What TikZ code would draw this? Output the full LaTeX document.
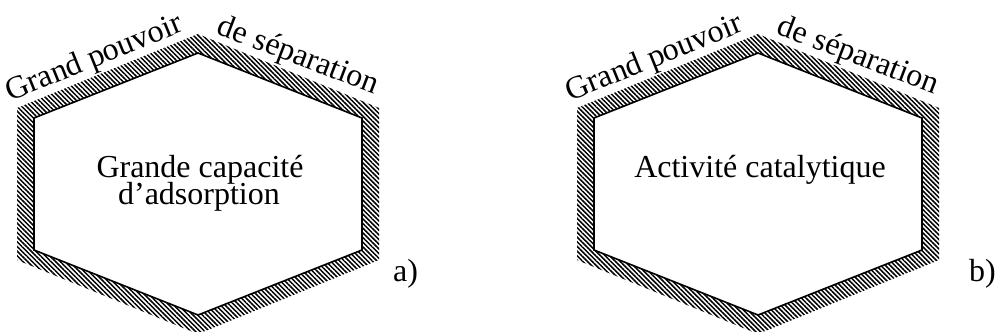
\documentclass[tikz,border=0pt]{standalone}
\usepackage{fontspec}
\setmainfont{Liberation Serif}
\usetikzlibrary{patterns.meta}
\tikzset{
  band/.style={pattern={Lines[angle=-45,distance=3.3pt,line width=1.5pt]}, even odd rule},
  innerline/.style={line width=1.6pt, line join=miter},
  lbl/.style={font=\fontsize{32}{32}\selectfont, inner sep=0pt, anchor=base},
}
\begin{document}
\begin{tikzpicture}[x=1pt,y=-1pt]
\useasboundingbox (0,0) rectangle (996,332);
% ---- hexagon a
\fill[band] (17,108) -- (198,34) -- (379,108) -- (379,260) -- (198,334) -- (17,260) -- cycle
            (34,118) -- (198,53) -- (362,118) -- (362,250) -- (198,315) -- (34,250) -- cycle;
\draw[innerline] (34,118) -- (198,53) -- (362,118) -- (362,250) -- (198,315) -- (34,250) -- cycle;
\node[lbl, rotate=22] (gpa) at (97.5,66) {Grand pouvoir};
\node[lbl, rotate=-21] (dsa) at (295,64) {de séparation};
\node[lbl] (ca1) at (200,177) {Grande capacité};
\node[lbl] (ca2) at (199,204) {d’adsorption};
\node[lbl, anchor=base west] (la) at (393,281) {a)};
% ---- hexagon b
\begin{scope}[xshift=560pt]
\fill[band] (17,108) -- (198,34) -- (379,108) -- (379,260) -- (198,334) -- (17,260) -- cycle
            (34,118) -- (198,53) -- (362,118) -- (362,250) -- (198,315) -- (34,250) -- cycle;
\draw[innerline] (34,118) -- (198,53) -- (362,118) -- (362,250) -- (198,315) -- (34,250) -- cycle;
\node[lbl, rotate=22] (gpb) at (97.5,66) {Grand pouvoir};
\node[lbl, rotate=-21] (dsb) at (295,64) {de séparation};
\node[lbl] (cb1) at (200,177) {Activité catalytique};
\end{scope}
\node[lbl, anchor=base west] (lb) at (969,281) {b)};
\end{tikzpicture}
\end{document}
